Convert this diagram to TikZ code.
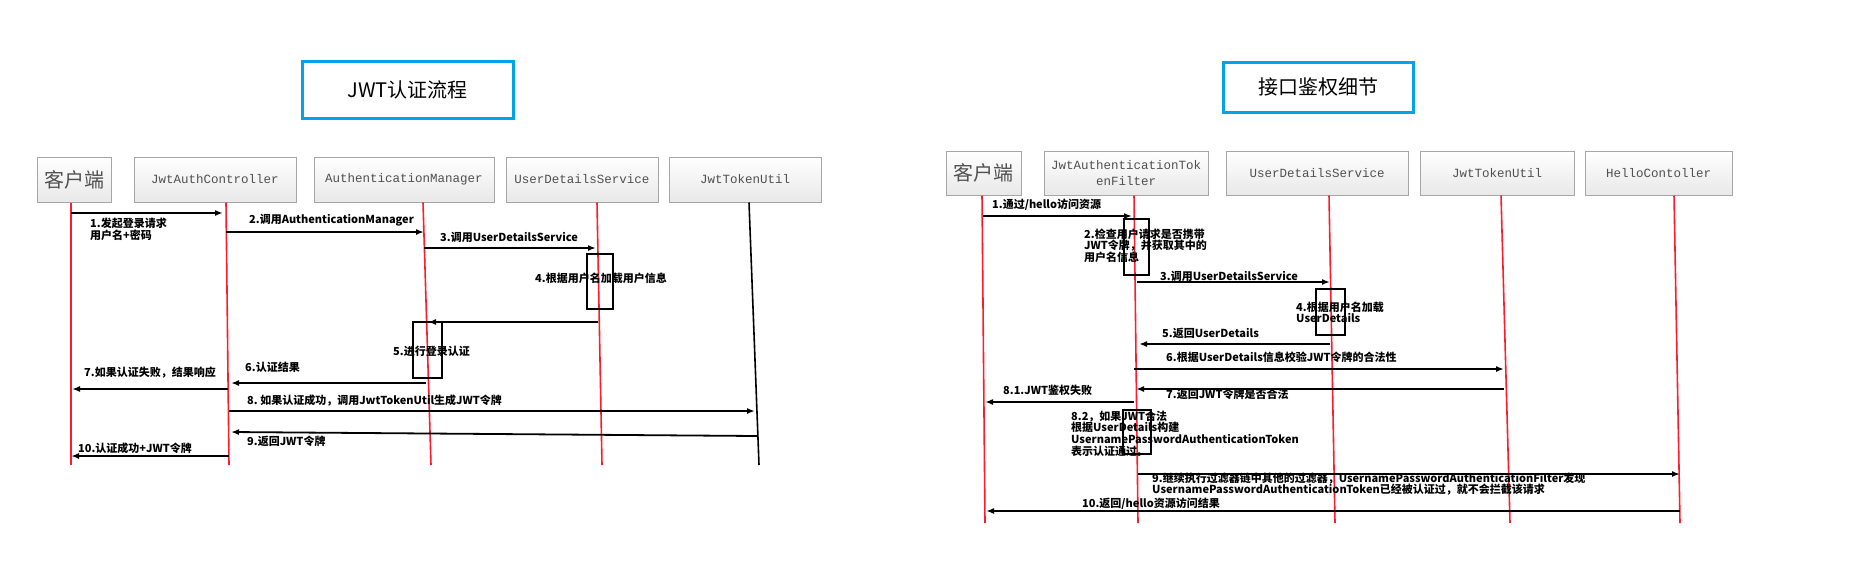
\documentclass[tikz,border=0pt]{standalone}
\usepackage{fontspec}
\setmainfont{Noto Sans CJK SC}
\newfontfamily\boxfont{Liberation Mono}
\usetikzlibrary{arrows.meta}
\definecolor{titleblue}{RGB}{0,162,232}
\definecolor{lifered}{RGB}{250,30,45}
\definecolor{boxgray}{RGB}{166,166,166}
\definecolor{boxtext}{RGB}{80,80,80}
\begin{document}
\begin{tikzpicture}[x=1pt,y=-1pt,
  titlebox/.style={draw=titleblue,line width=3pt,inner sep=0pt,font=\fontsize{20}{24}\selectfont},
  actor/.style={draw=boxgray,line width=1pt,top color=white,bottom color=black!9,minimum height=45pt,inner sep=1pt,text=boxtext,font=\boxfont\fontsize{12.5}{17}\selectfont,align=center},
  actorcn/.style={actor,font=\fontsize{20}{24}\selectfont},
  life/.style={draw=lifered,line width=1.6pt},
  lifeblack/.style={draw=black,line width=1.6pt},
  msg/.style={draw=black,line width=1.8pt,-{Latex[length=8pt,width=6pt]}},
  act/.style={draw=black,line width=1.3pt,inner sep=0pt},
  lbl/.style={font=\bfseries\fontsize{11}{11.6}\selectfont,inner sep=0pt,anchor=west,align=left},
]
\useasboundingbox[fill=white] (0,0) rectangle (1851,568);

% ---------------- Left diagram ----------------
\node[titlebox,minimum width=211pt,minimum height=57pt] (t1) at (407.5,89.5) {JWT认证流程};

\node[actorcn,minimum width=74pt] (p1) at (74,179.5) {客户端};
\node[actor,minimum width=162pt] (p2) at (215,179.5) {JwtAuthController};
\node[actor,minimum width=180pt] (p3) at (404,179.5) {AuthenticationManager};
\node[actor,minimum width=152pt] (p4) at (582,179.5) {UserDetailsService};
\node[actor,minimum width=152pt] (p5) at (745,179.5) {JwtTokenUtil};

\coordinate (l1b) at (71,465);
\coordinate (l2b) at (229,465);
\coordinate (l3b) at (431,465);
\coordinate (l4b) at (602,465);
\coordinate (l5b) at (759,465);
\draw[life] ([xshift=-3pt]p1.south) -- (l1b);
\draw[life] ([xshift=11pt]p2.south) -- (l2b);
\draw[life] ([xshift=19pt]p3.south) -- (l3b);
\draw[life] ([xshift=15pt]p4.south) -- (l4b);
\draw[lifeblack] ([xshift=4pt]p5.south) -- (l5b);

\node[act,minimum width=26pt,minimum height=55pt] (u1) at (600,281.5) {};
\node[act,minimum width=29pt,minimum height=56pt] (u2) at (427.5,350) {};

\coordinate (a1s) at (71,213);  \coordinate (a1e) at (223,213);
\coordinate (a2s) at (226,232); \coordinate (a2e) at (424,232);
\coordinate (a3s) at (424,248); \coordinate (a3e) at (596,248);
\coordinate (a4s) at (598,322); \coordinate (a4e) at (428,322);
\coordinate (a6s) at (426,383); \coordinate (a6e) at (231,383);
\coordinate (a7s) at (228,389); \coordinate (a7e) at (72,389);
\coordinate (a8s) at (229,411); \coordinate (a8e) at (755,411);
\coordinate (a9s) at (757,436); \coordinate (a9e) at (231,432);
\coordinate (a10s) at (229,456); \coordinate (a10e) at (71,456);
\draw[msg] (a1s) -- (a1e);
\draw[msg] (a2s) -- (a2e);
\draw[msg] (a3s) -- (a3e);
\draw[msg] (a4s) -- (a4e);
\draw[msg] (a6s) -- (a6e);
\draw[msg] (a7s) -- (a7e);
\draw[msg] (a8s) -- (a8e);
\draw[msg] (a9s) -- (a9e);
\draw[msg] (a10s) -- (a10e);

\node[lbl] (n1) at (90,229.5) {1.发起登录请求\\用户名+密码};
\node[lbl] (n2) at (249,220) {2.调用AuthenticationManager};
\node[lbl] (n3) at (440,237) {3.调用UserDetailsService};
\node[lbl] (n4) at (535,278) {4.根据用户名加载用户信息};
\node[lbl] (n5) at (393,351) {5.进行登录认证};
\node[lbl] (n6) at (245,367) {6.认证结果};
\node[lbl] (n7) at (84,373) {7.如果认证失败，结果响应};
\node[lbl] (n8) at (247,401) {8.\ 如果认证成功，调用JwtTokenUtil生成JWT令牌};
\node[lbl] (n9) at (247,441) {9.返回JWT令牌};
\node[lbl] (n10) at (78,448) {10.认证成功+JWT令牌};

% ---------------- Right diagram ----------------
\node[titlebox,minimum width=190pt,minimum height=50pt] (t2) at (1318,87) {接口鉴权细节};

\node[actorcn,minimum width=75pt,minimum height=44pt] (q1) at (983.5,173) {客户端};
\node[actor,minimum width=164pt,minimum height=44pt] (q2) at (1126,173) {JwtAuthenticationTok\\[-1pt]enFilter};
\node[actor,minimum width=182pt,minimum height=44pt] (q3) at (1317,173) {UserDetailsService};
\node[actor,minimum width=154pt,minimum height=44pt] (q4) at (1497,173) {JwtTokenUtil};
\node[actor,minimum width=147pt,minimum height=44pt] (q5) at (1658.5,173) {HelloContoller};

\coordinate (m1b) at (985,523);
\coordinate (m2b) at (1138,523);
\coordinate (m3b) at (1335,523);
\coordinate (m4b) at (1510,523);
\coordinate (m5b) at (1680,523);
\draw[life] ([xshift=-1.5pt]q1.south) -- (m1b);
\draw[life] ([xshift=8pt]q2.south) -- (m2b);
\draw[life] ([xshift=12pt]q3.south) -- (m3b);
\draw[life] ([xshift=4pt]q4.south) -- (m4b);
\draw[life] ([xshift=15.5pt]q5.south) -- (m5b);

\node[act,minimum width=25pt,minimum height=56pt] (v1) at (1136.5,247) {};
\node[act,minimum width=29pt,minimum height=46pt] (v2) at (1330.5,312) {};
\node[act,minimum width=28pt,minimum height=44pt] (v3) at (1137,432) {};

\coordinate (b1s) at (983,216);   \coordinate (b1e) at (1132,216);
\coordinate (b3s) at (1137,282);  \coordinate (b3e) at (1330,282);
\coordinate (b5s) at (1330,344);  \coordinate (b5e) at (1139,344);
\coordinate (b6s) at (1134,369);  \coordinate (b6e) at (1504,369);
\coordinate (b7s) at (1504,389);  \coordinate (b7e) at (1136,389);
\coordinate (b8s) at (1134,402);  \coordinate (b8e) at (985,402);
\coordinate (b9s) at (1138,474);  \coordinate (b9e) at (1680,474);
\coordinate (b10s) at (1680,511); \coordinate (b10e) at (986,511);
\draw[msg] (b1s) -- (b1e);
\draw[msg] (b3s) -- (b3e);
\draw[msg] (b5s) -- (b5e);
\draw[msg] (b6s) -- (b6e);
\draw[msg] (b7s) -- (b7e);
\draw[msg] (b8s) -- (b8e);
\draw[msg] (b9s) -- (b9e);
\draw[msg] (b10s) -- (b10e);

\node[lbl] (k1) at (992,205) {1.通过/hello访问资源};
\node[lbl] (k2) at (1084,245.5) {2.检查用户请求是否携带\\JWT令牌，并获取其中的\\用户名信息};
\node[lbl] (k3) at (1160,276) {3.调用UserDetailsService};
\node[lbl] (k4) at (1296,312.5) {4.根据用户名加载\\UserDetails};
\node[lbl] (k5) at (1162,333) {5.返回UserDetails};
\node[lbl] (k6) at (1166,357) {6.根据UserDetails信息校验JWT令牌的合法性};
\node[lbl] (k7) at (1166,394) {7.返回JWT令牌是否合法};
\node[lbl] (k81) at (1003,390) {8.1.JWT鉴权失败};
\node[lbl] (k82) at (1071,433.5) {8.2，如果JWT合法\\根据UserDetails构建\\UsernamePasswordAuthenticationToken\\表示认证通过。};
\node[lbl] (k9) at (1152,484) {9.继续执行过滤器链中其他的过滤器，UsernamePasswordAuthenticationFilter发现\\UsernamePasswordAuthenticationToken已经被认证过，就不会拦截该请求};
\node[lbl] (k10) at (1082,504) {10.返回/hello资源访问结果};
\end{tikzpicture}
\end{document}
